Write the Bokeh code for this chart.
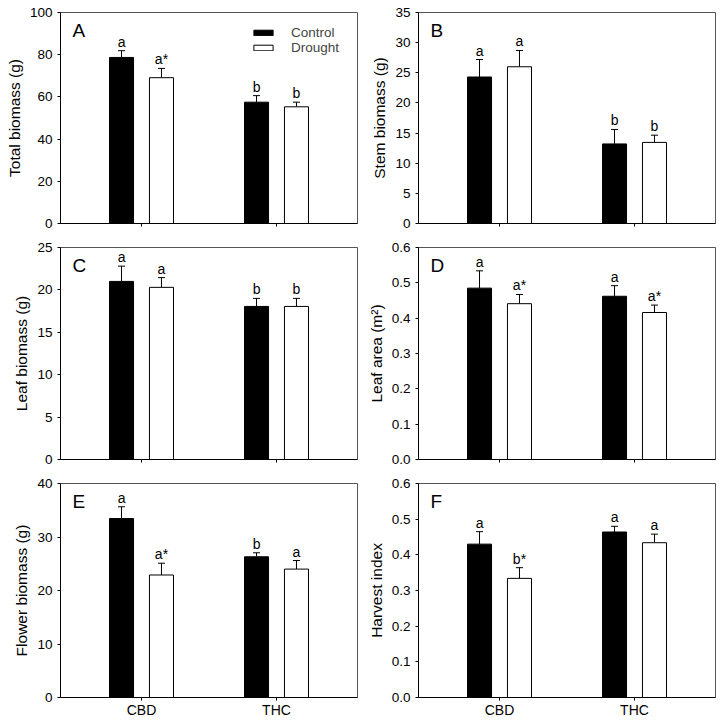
from bokeh.plotting import figure
from bokeh.models import (Range1d, FixedTicker, Whisker, TeeHead, ColumnDataSource,
                          Label, Legend, LegendItem, NumeralTickFormatter)
from bokeh.layouts import column, row
from bokeh.embed import file_html
from bokeh.resources import INLINE
from bokeh.core.properties import value

FONT = "Liberation Sans"

groups = ["CBD", "THC"]
treatments = ["Control", "Drought"]

# A: Total biomass (g)
total_ctrl = [78.7, 57.5]
total_ctrl_se = [3.2, 3.1]
total_drt = [69.1, 55.3]
total_drt_se = [4.4, 2.2]
total_lab_ctrl = ["a", "b"]
total_lab_drt = ["a*", "b"]
total_ticks = [0, 20, 40, 60, 80, 100]

# B: Stem biomass (g)
stem_ctrl = [24.3, 13.2]
stem_ctrl_se = [2.9, 2.4]
stem_drt = [26.0, 13.45]
stem_drt_se = [2.7, 1.2]
stem_lab_ctrl = ["a", "b"]
stem_lab_drt = ["a", "b"]
stem_ticks = [0, 5, 10, 15, 20, 25, 30, 35]

# C: Leaf biomass (g)
leaf_ctrl = [21.0, 18.05]
leaf_ctrl_se = [1.8, 0.95]
leaf_drt = [20.3, 18.05]
leaf_drt_se = [1.15, 0.95]
leaf_lab_ctrl = ["a", "b"]
leaf_lab_drt = ["a", "b"]
leaf_ticks = [0, 5, 10, 15, 20, 25]

# D: Leaf area (m2)
area_ctrl = [0.485, 0.462]
area_ctrl_se = [0.049, 0.030]
area_drt = [0.441, 0.416]
area_drt_se = [0.026, 0.021]
area_lab_ctrl = ["a", "a"]
area_lab_drt = ["a*", "a*"]
area_ticks = [0.0, 0.1, 0.2, 0.3, 0.4, 0.5, 0.6]

# E: Flower biomass (g)
flower_ctrl = [33.45, 26.3]
flower_ctrl_se = [2.2, 0.75]
flower_drt = [22.9, 24.0]
flower_drt_se = [2.2, 1.6]
flower_lab_ctrl = ["a", "b"]
flower_lab_drt = ["a*", "a"]
flower_ticks = [0, 10, 20, 30, 40]

# F: Harvest index
hi_ctrl = [0.430, 0.464]
hi_ctrl_se = [0.035, 0.016]
hi_drt = [0.334, 0.434]
hi_drt_se = [0.030, 0.024]
hi_lab_ctrl = ["a", "a"]
hi_lab_drt = ["b*", "a"]
hi_ticks = [0.0, 0.1, 0.2, 0.3, 0.4, 0.5, 0.6]

COL = [dict(width=360, left=60, right=3), dict(width=360, left=58, right=5)]
ROW = [dict(height=236, top=12, bottom=13, fh=211),
       dict(height=236, top=11, bottom=13, fh=212),
       dict(height=248, top=11, bottom=23, fh=214)]

BAR_W = 0.178
OFF = 0.148


def panel(letter, ylabel, ticks, ctrl, ctrl_se, drt, drt_se, lab_c, lab_d,
          ci, ri, fmt=None, legend=False):
    c = COL[ci]
    r = ROW[ri]
    p = figure(width=c["width"], height=r["height"], output_backend="svg",
               toolbar_location=None, x_range=Range1d(0.4, 2.6),
               y_range=Range1d(ticks[0], ticks[-1]),
               min_border_left=c["left"], min_border_right=c["right"],
               min_border_top=r["top"], min_border_bottom=r["bottom"])
    p.xgrid.visible = False
    p.ygrid.visible = False
    p.outline_line_color = "#555555"
    p.outline_line_width = 1
    p.background_fill_color = "white"
    p.border_fill_color = "white"

    xc = [i + 1 - OFF for i in range(len(groups))]
    xd = [i + 1 + OFF for i in range(len(groups))]
    src_c = ColumnDataSource(dict(x=xc, top=ctrl, up=[v + e for v, e in zip(ctrl, ctrl_se)], lab=lab_c))
    src_d = ColumnDataSource(dict(x=xd, top=drt, up=[v + e for v, e in zip(drt, drt_se)], lab=lab_d))

    rc = p.vbar(x="x", top="top", bottom=0, width=BAR_W, source=src_c,
                fill_color="black", line_color="black", line_width=1)
    rd = p.vbar(x="x", top="top", bottom=0, width=BAR_W, source=src_d,
                fill_color="white", line_color="black", line_width=1)
    for s in (src_c, src_d):
        w = Whisker(base="x", lower="top", upper="up", source=s, dimension="height",
                    line_color="black", line_width=1, lower_head=None,
                    upper_head=TeeHead(size=7, line_color="black", line_width=1))
        p.add_layout(w)
        p.text(x="x", y="up", text="lab", source=s, text_align="center",
               text_baseline="bottom", y_offset=-1, text_font=value(FONT),
               text_font_size=value("14px"), text_color="black")

    # axes
    p.xaxis.ticker = FixedTicker(ticks=[i + 1 for i in range(len(groups))])
    if ri == 2:
        p.xaxis.major_label_overrides = {i + 1: g for i, g in enumerate(groups)}
    else:
        p.xaxis.major_label_overrides = {i + 1: "" for i, g in enumerate(groups)}
    p.yaxis.ticker = FixedTicker(ticks=ticks)
    if fmt:
        p.yaxis.formatter = NumeralTickFormatter(format=fmt)
    for ax in (p.xaxis[0], p.yaxis[0]):
        ax.axis_line_color = "black"
        ax.major_tick_line_color = "black"
        ax.major_tick_out = 3
        ax.major_tick_in = 0
        ax.minor_tick_line_color = None
        ax.major_label_text_font = FONT
        ax.major_label_text_color = "black"
    p.yaxis.major_label_text_font_size = "13.5px"
    p.yaxis.major_label_standoff = 5
    p.xaxis.major_label_standoff = 1
    p.xaxis.major_label_text_font_size = "14px"
    p.yaxis.axis_label = ylabel
    p.yaxis.axis_label_text_font = FONT
    p.yaxis.axis_label_text_font_size = "15.5px"
    p.yaxis.axis_label_text_font_style = "normal"
    p.yaxis.axis_label_text_color = "black"
    p.yaxis.axis_label_standoff = 4

    p.add_layout(Label(x=12, y=r["fh"] - 18, x_units="screen", y_units="screen",
                       text=letter, text_font=FONT, text_font_size="19px",
                       text_baseline="alphabetic", text_color="black"))

    if legend:
        lg = Legend(items=[LegendItem(label=treatments[0], renderers=[rc]),
                           LegendItem(label=treatments[1], renderers=[rd])],
                    location=(191, r["fh"] - 43), padding=0, margin=0, spacing=-3,
                    glyph_width=24, glyph_height=7, label_height=12,
                    label_standoff=16, label_text_font=FONT,
                    label_text_font_size="13.5px",
                    border_line_alpha=0, background_fill_alpha=0)
        p.add_layout(lg, "center")
    return p


pA = panel("A", "Total biomass (g)", total_ticks, total_ctrl, total_ctrl_se, total_drt,
           total_drt_se, total_lab_ctrl, total_lab_drt, 0, 0, legend=True)
pB = panel("B", "Stem biomass (g)", stem_ticks, stem_ctrl, stem_ctrl_se, stem_drt,
           stem_drt_se, stem_lab_ctrl, stem_lab_drt, 1, 0)
pC = panel("C", "Leaf biomass (g)", leaf_ticks, leaf_ctrl, leaf_ctrl_se, leaf_drt,
           leaf_drt_se, leaf_lab_ctrl, leaf_lab_drt, 0, 1)
pD = panel("D", "Leaf area (m²)", area_ticks, area_ctrl, area_ctrl_se, area_drt,
           area_drt_se, area_lab_ctrl, area_lab_drt, 1, 1, fmt="0.0")
pE = panel("E", "Flower biomass (g)", flower_ticks, flower_ctrl, flower_ctrl_se, flower_drt,
           flower_drt_se, flower_lab_ctrl, flower_lab_drt, 0, 2)
pF = panel("F", "Harvest index", hi_ticks, hi_ctrl, hi_ctrl_se, hi_drt,
           hi_drt_se, hi_lab_ctrl, hi_lab_drt, 1, 2, fmt="0.0")

layout = column(row(pA, pB), row(pC, pD), row(pE, pF))
open("out.html", "w").write(file_html(layout, INLINE))
